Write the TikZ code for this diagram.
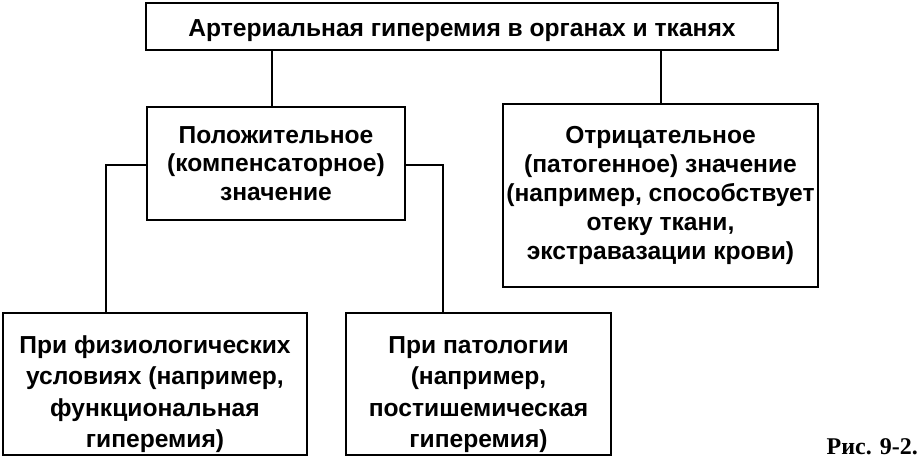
\documentclass[tikz,border=0pt]{standalone}
\usepackage{fontspec}
\setmainfont{Liberation Sans}
\newfontfamily\capfont{Liberation Serif}
\begin{document}
\begin{tikzpicture}[x=1pt,y=-1pt,
  box/.style={draw, line width=2.6pt, inner sep=0pt, align=center, font=\bfseries\fontsize{24.6}{28.8}\selectfont},
  lowbox/.style={box, font=\bfseries\fontsize{24.6}{31.5}\selectfont},
  conn/.style={line width=1.6pt}]
\useasboundingbox (0,0) rectangle (922,464);
\node[box, minimum width=632pt, minimum height=47pt] (top) at (462,26.5) {\rule{0pt}{26pt}Артериальная гиперемия в органах и тканях};
\node[box, minimum width=258pt, minimum height=113pt] (pos) at (276,163.5) {Положительное\\(компенсаторное)\\значение};
\node[box, minimum width=315pt, minimum height=183pt] (neg) at (660.5,195.5) {Отрицательное\\(патогенное) значение\\(например, способствует\\отеку ткани,\\экстравазации крови)};
\node[lowbox, minimum width=304pt, minimum height=142pt] (phys) at (155,384) {\rule{0pt}{38pt}При физиологических\\условиях (например,\\функциональная\\гиперемия)};
\node[lowbox, minimum width=265pt, minimum height=142pt] (path) at (478.5,384) {\rule{0pt}{38pt}При патологии\\(например,\\постишемическая\\гиперемия)};
\node[font=\capfont\bfseries\fontsize{24}{26}\selectfont, anchor=base east, inner sep=0pt] (cap) at (918,454) {Рис. 9-2.};
\draw[conn] (top.south -| 272,0) -- (pos.north -| 272,0);
\draw[conn] (top.south -| 661,0) -- (neg.north -| 661,0);
\coordinate (pl) at (106,165);
\coordinate (pr) at (443,165);
\draw[conn] (pos.west |- pl) -- (pl) -- (phys.north -| pl);
\draw[conn] (pos.east |- pr) -- (pr) -- (path.north -| pr);
\end{tikzpicture}
\end{document}
